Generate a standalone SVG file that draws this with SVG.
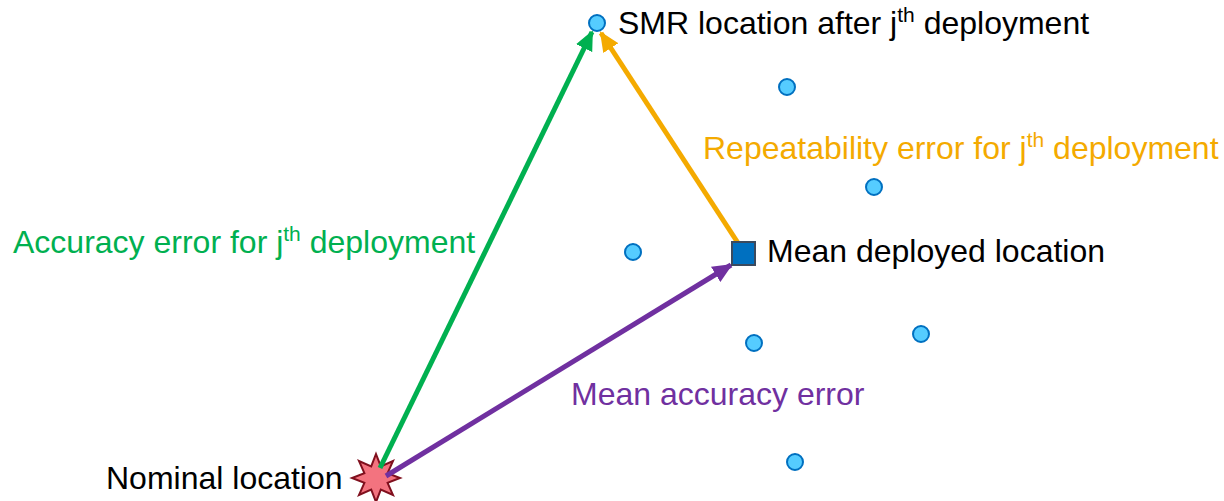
<svg xmlns="http://www.w3.org/2000/svg" width="1224" height="501" viewBox="0 0 1224 501">
  <style>
    text { font-family: "Liberation Sans", Arial, sans-serif; font-size: 32px; }
    .black { fill: #000000; }
    .green { fill: #00B050; }
    .orange { fill: #F4AA00; }
    .purple { fill: #7030A0; }
    .sup { font-size: 21px; }
    .dot { fill: #55CCFF; stroke: #0070C0; stroke-width: 2; }
    .conn { fill: none; stroke-width: 5; }
  </style>
  <defs>
    <marker id="headGreen" markerUnits="userSpaceOnUse" markerWidth="20" markerHeight="18" refX="18" refY="9" orient="auto">
      <path d="M0,0 L20,9 L0,18 Z" fill="#00B050"/>
    </marker>
    <marker id="headOrange" markerUnits="userSpaceOnUse" markerWidth="20" markerHeight="18" refX="18" refY="9" orient="auto">
      <path d="M0,0 L20,9 L0,18 Z" fill="#F4AA00"/>
    </marker>
    <marker id="headPurple" markerUnits="userSpaceOnUse" markerWidth="20" markerHeight="18" refX="18" refY="9" orient="auto">
      <path d="M0,0 L20,9 L0,18 Z" fill="#7030A0"/>
    </marker>
  </defs>

  <!-- nominal location: eight-pointed star -->
  <g id="nominal">
    <polygon points="376,454 380.8,466.4 393,461 387.6,473.2 400,478 387.6,482.8 393,495 380.8,489.6 376,502 371.2,489.6 359,495 364.4,482.8 352,478 364.4,473.2 359,461 371.2,466.4" fill="#F3737F" stroke="#80101E" stroke-width="2" stroke-linejoin="miter"/>
    <text class="black" x="106" y="489">Nominal location</text>
  </g>

  <!-- scattered deployment locations -->
  <g id="deployments">
    <circle class="dot" cx="787" cy="87" r="8"/>
    <circle class="dot" cx="874" cy="187" r="8"/>
    <circle class="dot" cx="633" cy="252" r="8"/>
    <circle class="dot" cx="754" cy="343" r="8"/>
    <circle class="dot" cx="921" cy="334" r="8"/>
    <circle class="dot" cx="795" cy="462" r="8"/>
  </g>

  <!-- connectors -->
  <g id="connectors">
    <line class="conn" stroke="#00B050" x1="380" y1="468" x2="592" y2="32" marker-end="url(#headGreen)"/>
    <line class="conn" stroke="#F4AA00" x1="738" y1="243" x2="601" y2="33" marker-end="url(#headOrange)"/>
    <line class="conn" stroke="#7030A0" x1="386" y1="476" x2="731" y2="265" marker-end="url(#headPurple)"/>
  </g>

  <!-- SMR location after deployment j -->
  <g id="smr">
    <circle class="dot" cx="597" cy="23" r="8"/>
    <text class="black" x="618" y="34">SMR location after j<tspan class="sup" dy="-12">th</tspan><tspan dy="12"> deployment</tspan></text>
  </g>

  <!-- mean deployed location -->
  <g id="mean">
    <rect x="732" y="242" width="23" height="23" fill="#0070C0" stroke="#3B4A5E" stroke-width="2"/>
    <text class="black" x="767" y="262">Mean deployed location</text>
  </g>

  <!-- labels of the error vectors -->
  <g id="labels">
    <text class="orange" x="703" y="159">Repeatability error for j<tspan class="sup" dy="-12">th</tspan><tspan dy="12"> deployment</tspan></text>
    <text class="green" x="13" y="253">Accuracy error for j<tspan class="sup" dy="-12">th</tspan><tspan dy="12"> deployment</tspan></text>
    <text class="purple" x="571" y="405">Mean accuracy error</text>
  </g>
</svg>
